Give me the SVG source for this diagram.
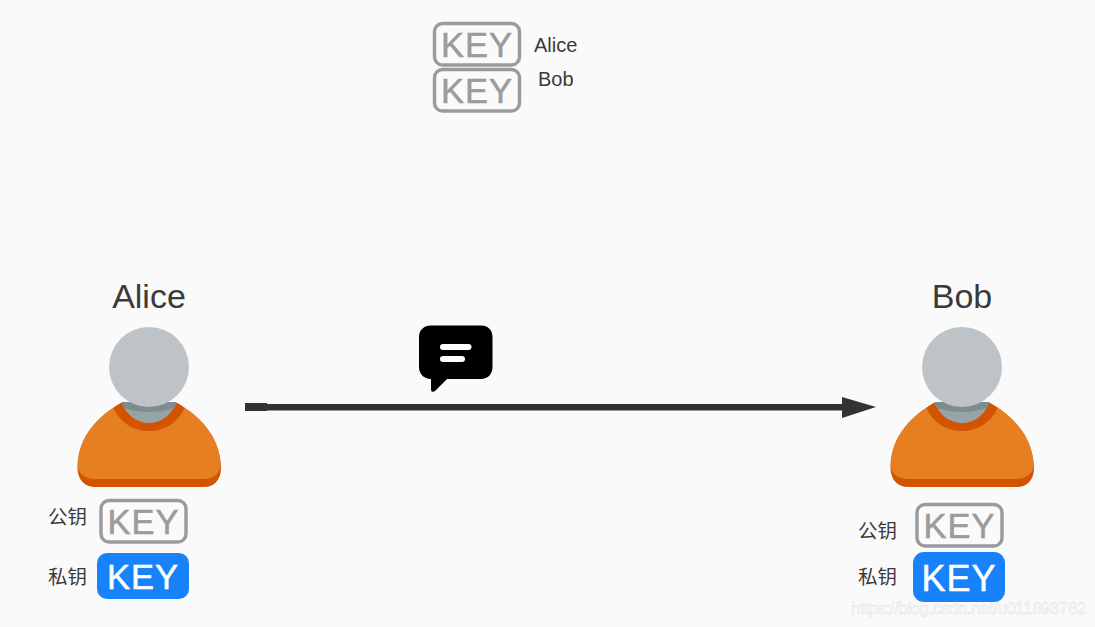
<svg xmlns="http://www.w3.org/2000/svg" width="1095" height="627" viewBox="0 0 1095 627">
<style>
.t{font-family:"Liberation Sans","Noto Sans CJK SC",sans-serif;fill:#3a3a3a}
.c{font-family:"Noto Sans CJK SC","Liberation Sans",sans-serif;font-size:19.500px;fill:#3a3a3a}
.big{font-size:34px;text-anchor:middle}
.sm{font-size:20px}
.kb{fill:#fafafa;stroke:#9b9b9b;stroke-width:3.400}
.kt{font-family:"Liberation Sans",sans-serif;text-anchor:middle;font-size:34.500px;letter-spacing:1px;fill:#9b9b9b;stroke:#9b9b9b;stroke-width:0.500}
.bb{fill:#1882fb}
.bt{font-family:"Liberation Sans",sans-serif;text-anchor:middle;font-size:34.500px;letter-spacing:1px;fill:#fff;stroke:#fff;stroke-width:0.500}
</style>
<defs>
<g id="person">
<path d="M77.500 468C78 435 100 415 121 403H177C198 415 220 435 221 468C221 480 214 487 204 487H95C85 487 77.500 480 77.500 468Z" fill="#d35400"/>
<path d="M77.500 466C78 435 100 415 121 403H177C198 415 220 435 220.500 466C220 473 213 479 204 479H95C85 479 78 473 77.500 466Z" fill="#e67e22"/>
<path d="M113.500 408L121 403H177L184.500 408C178 423 164 431 149 431C134 431 120 423 113.500 408Z" fill="#d35400"/>
<path d="M121.500 402H176.500C172 415 161 423 149 423C137 423 126 415 121.500 402Z" fill="#95a5a6"/>
<path d="M121.500 402H176.500L174.500 408Q149 416 123.500 408Z" fill="#7f8c8d"/>
<circle cx="149" cy="367" r="40" fill="#bdc3c7"/>
</g>
</defs>
<rect id="background" width="1095" height="627" fill="#fafafa"/>
<g id="connectors">
<rect x="245" y="403" width="22" height="8" fill="#333"/>
<rect x="265" y="404" width="580" height="6.500" fill="#333"/>
<path d="M842 397L876 407L842 418Z" fill="#333"/>
</g>
<g id="keys-top">
<rect class="kb" x="434.500" y="23.500" width="85" height="41.500" rx="8"/>
<text class="kt" x="477" y="56.500">KEY</text>
<rect class="kb" x="434.500" y="69.500" width="85" height="41.500" rx="8"/>
<text class="kt" x="477" y="102.500">KEY</text>
<text class="t sm" x="534" y="52">Alice</text>
<text class="t sm" x="538" y="86">Bob</text>
</g>
<g id="message">
<path d="M431 325.500H481C488 325.500 492.500 330 492.500 337V367C492.500 374 488 379 481 379H447L435 391C433 392.500 431 392 431 389V379C424 379 419 374 419 367V337C419 330 424 325.500 431 325.500Z" fill="#000"/>
<rect x="440" y="344" width="31.500" height="6" rx="3" fill="#fff"/>
<rect x="440" y="356" width="25" height="6" rx="3" fill="#fff"/>
</g>
<g id="alice">
<text class="t big" x="149" y="308">Alice</text>
<use href="#person"/>
<text class="c" x="48" y="524">公钥</text>
<rect class="kb" x="101" y="500.500" width="85" height="41.500" rx="8"/>
<text class="kt" x="143.500" y="533.500">KEY</text>
<text class="c" x="48" y="584">私钥</text>
<rect class="bb" x="97" y="553" width="92" height="46" rx="10"/>
<text class="bt" x="143" y="588.500">KEY</text>
</g>
<g id="bob">
<text class="t big" x="962" y="308">Bob</text>
<use href="#person" x="813"/>
<text class="c" x="858" y="538">公钥</text>
<rect class="kb" x="917" y="504.500" width="85" height="41.500" rx="8"/>
<text class="kt" x="959.500" y="537.500">KEY</text>
<text class="c" x="858" y="584">私钥</text>
<rect class="bb" x="913" y="552" width="92" height="50" rx="11"/>
<text class="bt" x="959" y="590.500" style="font-size:36px">KEY</text>
</g>
<text id="watermark" x="851" y="614" font-family="Liberation Sans, sans-serif" font-size="16.500" textLength="235" fill="#fff" stroke="#d6d6d6" stroke-width="0.400" opacity="0.900">https://blog.csdn.net/u011893782</text>
</svg>
